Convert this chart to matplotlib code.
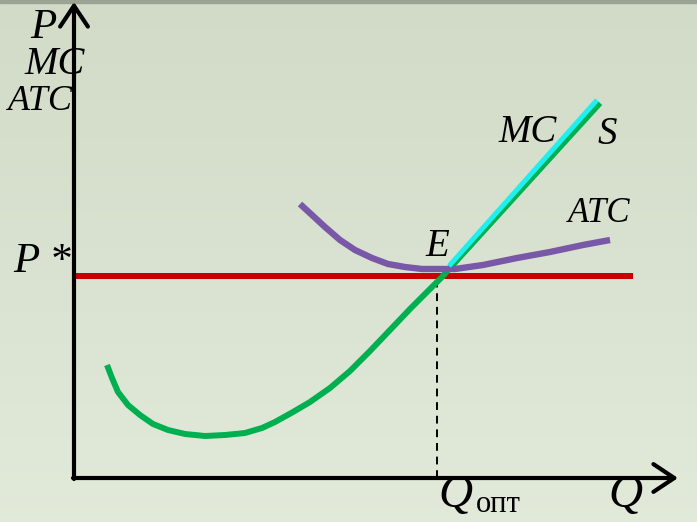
import numpy as np
import matplotlib.pyplot as plt

# points: Q to the right, P up, origin at the corner of the axes
mc_q = [33, 38, 44, 54, 66, 79, 94, 111, 131, 151, 171, 188, 201, 219, 236, 256,
        276, 296, 316, 336, 356, 368, 376, 526]
mc_p = [113, 100, 86, 73, 63, 54, 48, 44, 42, 43, 45, 50, 56, 66, 76, 90,
        107, 127, 148, 169, 189, 201, 210, 375]

supply_q = [375, 523]
supply_p = [212, 378]

atc_q = [226, 238, 251, 266, 281, 298, 314, 331, 348, 364, 381, 409, 443, 476, 509, 536]
atc_p = [274, 263, 251, 238, 228, 220, 214, 211, 209, 209, 209, 213, 220, 226, 233, 238]

p_star = 202
q_opt = 363
price_line_end = 559

fig = plt.figure(figsize=(6.97, 5.22), dpi=100)
ax = fig.add_axes([0, 0, 1, 1])
ax.set_xlim(-74, 623)
ax.set_ylim(-44, 478)
ax.axis('off')

# background gradient, darker at the top
grad = np.linspace(0, 1, 256).reshape(-1, 1)
top = np.array([0.82, 0.86, 0.78])
bottom = np.array([0.885, 0.915, 0.855])
img = top + (bottom - top) * grad[:, :, None]
ax.imshow(img, extent=(-74, 623, -44, 478), aspect='auto', origin='upper', zorder=0)
ax.axhspan(475.5, 478, color='#9ba394', zorder=1)

# axes with open arrow heads
arrow = dict(arrowstyle='->,head_length=0.75,head_width=0.5', color='black', lw=3,
             mutation_scale=20, shrinkA=0, shrinkB=0)
ax.annotate('', xy=(0, 476), xytext=(0, -1), arrowprops=arrow, zorder=5)
ax.annotate('', xy=(604, 0), xytext=(-1, 0), arrowprops=arrow, zorder=5)

ax.plot([0, price_line_end], [p_star, p_star], color='#c80000', lw=4.3, solid_capstyle='butt', zorder=3)
ax.plot([q_opt, q_opt], [0, p_star - 4], color='black', lw=1.4, dashes=[4, 3], zorder=2)
ax.plot(mc_q, mc_p, color='#00b050', lw=4.3, solid_capstyle='butt', solid_joinstyle='round', zorder=4)
ax.plot(supply_q, supply_p, color='#1ef0f0', lw=3.6, solid_capstyle='butt', zorder=6)
ax.plot(atc_q, atc_p, color='#7a58a8', lw=4.6, solid_capstyle='butt', solid_joinstyle='round', zorder=5)

serif = dict(family='Liberation Serif', style='italic', color='black')
ax.text(-31, 450, 'P', fontsize=31, ha='center', va='center', **serif)
ax.text(-19, 414, 'MC', fontsize=29, ha='center', va='center', **serif)
ax.text(-34, 376, 'ATC', fontsize=26, ha='center', va='center', **serif)
ax.text(-32, 216, 'P *', fontsize=31, ha='center', va='center', **serif)
ax.text(454, 346, 'MC', fontsize=28, ha='center', va='center', **serif)
ax.text(533, 343, 'S', fontsize=28, ha='center', va='center', **serif)
ax.text(525, 265, 'ATC', fontsize=25, ha='center', va='center', **serif)
ax.text(363, 232, 'E', fontsize=28, ha='center', va='center', **serif)
ax.text(364, -29, 'Q', fontsize=34, ha='left', va='baseline', **serif)
ax.text(402, -34, 'опт', fontsize=22, ha='left', va='baseline', family='Liberation Serif', color='black')
ax.text(534, -29, 'Q', fontsize=34, ha='left', va='baseline', **serif)

fig.savefig('out.png', dpi=100)
